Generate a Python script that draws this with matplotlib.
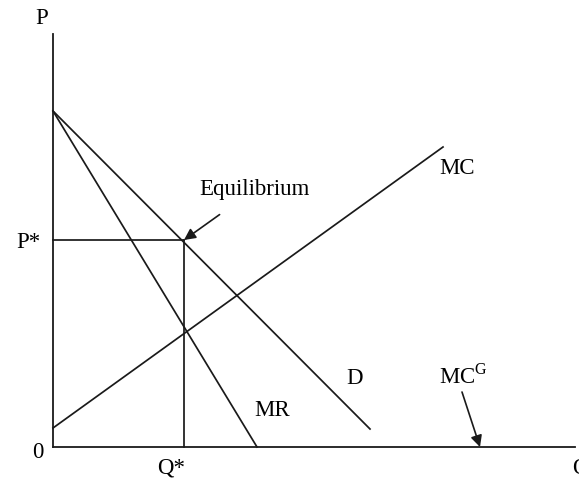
import matplotlib
matplotlib.use('Agg')
from matplotlib import pyplot as plt

plt.rcParams['font.family'] = ['Liberation Serif', 'DejaVu Serif']
plt.rcParams['mathtext.fontset'] = 'custom'
plt.rcParams['mathtext.rm'] = 'Liberation Serif'

# curve endpoints, in chart units (origin at the axes corner)
demand_x = [0, 317]
demand_y = [336, 18]
mr_x = [0, 204]
mr_y = [336, 0]
mc_x = [0, 390]
mc_y = [19, 300]

q_star = 131
p_star = 207
x_max = 522
y_max = 413
mcg_q = 427

ink = '#1a1a1a'

fig = plt.figure(figsize=(5.79, 4.83), dpi=100)
ax = fig.add_axes([0, 0, 1, 1])
ax.set_xlim(-53, 526)
ax.set_ylim(-36, 447)
ax.axis('off')

# axes
ax.plot([0, 0], [0, y_max], color=ink, lw=1.3)
ax.plot([0, x_max], [0, 0], color=ink, lw=1.3)

# curves
ax.plot(demand_x, demand_y, color=ink, lw=1.25)
ax.plot(mr_x, mr_y, color=ink, lw=1.25)
ax.plot(mc_x, mc_y, color=ink, lw=1.25)

# equilibrium guides
ax.plot([0, q_star], [p_star, p_star], color=ink, lw=1.25)
ax.plot([q_star, q_star], [0, p_star], color=ink, lw=1.25)

fs = 16.5
ax.text(-11, 429, 'P', fontsize=fs, ha='center', va='center')
ax.text(-25, 204, 'P*', fontsize=fs, ha='center', va='center')
ax.text(-15, -6, '0', fontsize=fs, ha='center', va='center')
ax.text(q_star - 13, -21, 'Q*', fontsize=fs, ha='center', va='center')
ax.text(527, -21, 'Q', fontsize=fs, ha='center', va='center')
ax.text(404, 279, 'MC', fontsize=fs, ha='center', va='center')
ax.text(302, 69, 'D', fontsize=fs, ha='center', va='center')
ax.text(219, 37, 'MR', fontsize=fs, ha='center', va='center')
ax.text(410, 71, r'MC$^{\mathrm{G}}$', fontsize=fs, ha='center', va='center')

ax.annotate('Equilibrium', xy=(q_star, p_star), xytext=(201, 257),
            fontsize=fs, ha='center', va='center',
            arrowprops=dict(arrowstyle='-|>', color=ink, lw=1.2,
                            mutation_scale=17, shrinkA=14, shrinkB=0))
ax.annotate('', xy=(mcg_q, 0), xytext=(409, 55),
            arrowprops=dict(arrowstyle='-|>', color=ink, lw=1.2,
                            mutation_scale=17, shrinkA=0, shrinkB=0))

fig.savefig('out.png', dpi=100)
